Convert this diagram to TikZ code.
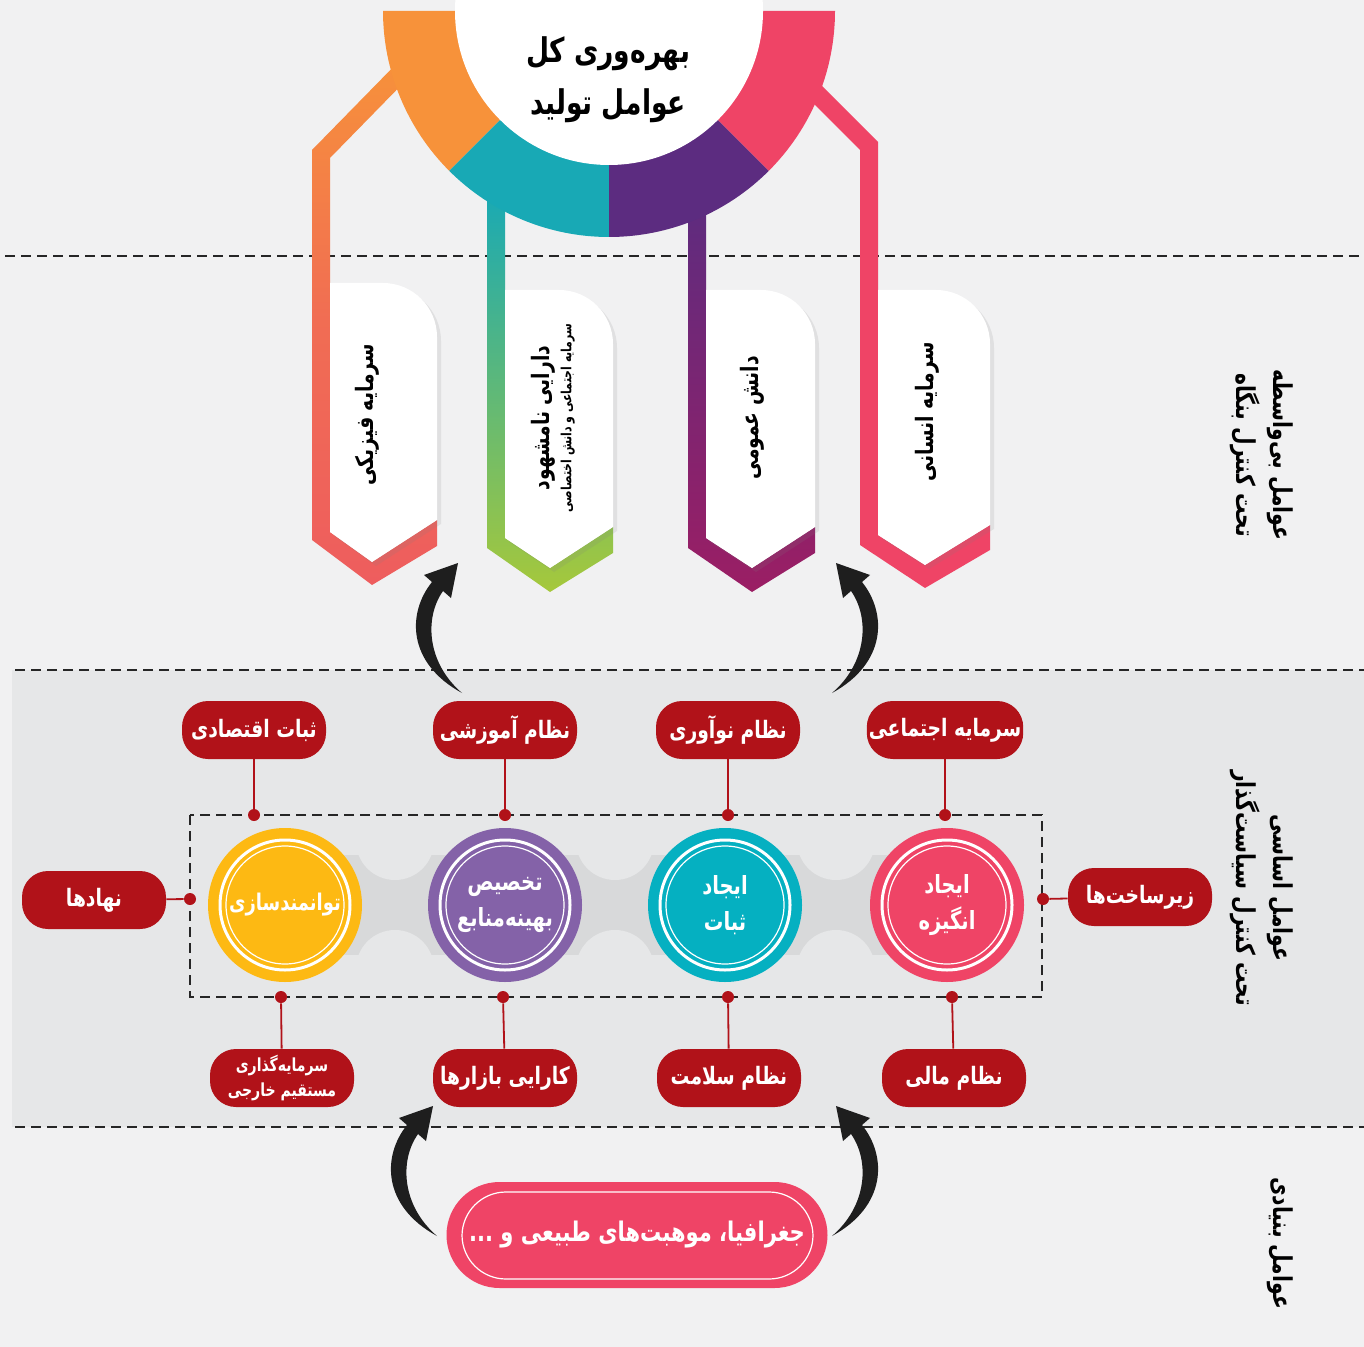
\documentclass[tikz,border=0pt]{standalone}
\usepackage{fontspec}
\newfontfamily\fafont[Script=Arabic, FakeStretch=0.78]{DejaVu Sans}
\TeXXeTstate=1
\usetikzlibrary{positioning, arrows.meta, shadows}

\definecolor{paper}{HTML}{F1F1F2}
\definecolor{band}{HTML}{E6E7E8}
\definecolor{bridge}{HTML}{D8D9DA}
\definecolor{pillred}{HTML}{B11219}
\definecolor{hubyellow}{HTML}{FDB913}
\definecolor{hubpurple}{HTML}{8462A8}
\definecolor{hubteal}{HTML}{05B0C1}
\definecolor{hubpink}{HTML}{EF4466}
\definecolor{ringorange}{HTML}{F7923A}
\definecolor{ringteal}{HTML}{18A9B5}
\definecolor{ringpurple}{HTML}{5C2C80}
\definecolor{ringpink}{HTML}{EF4466}
\definecolor{coral}{HTML}{EE5D5E}
\definecolor{lime}{HTML}{A6C83B}
\definecolor{plum}{HTML}{9B1E64}
\definecolor{arrowblack}{HTML}{1E1E1E}

\newcommand{\rtltext}[1]{\beginR#1\endR}

\begin{document}
\begin{tikzpicture}[
    x=0.5pt, y=-0.5pt,
    pill/.style={rectangle, rounded corners=13pt, fill=pillred, text=white, minimum width=72pt, minimum height=29pt, inner sep=1pt, align=center, font=\fafont\bfseries\fontsize{12}{13}\selectfont},
    hub/.style={circle, fill=#1, text=white, minimum size=77pt, inner sep=0pt, align=center, font=\fafont\bfseries\fontsize{12.5}{18}\selectfont},
    dot/.style={circle, fill=pillred, minimum size=6pt, inner sep=0pt},
    link/.style={pillred, line width=0.9pt},
    sep/.style={dash pattern=on 5pt off 3pt, line width=1pt, black!85},
    flagtext/.style={rotate=90, align=center, font=\fafont\bfseries\fontsize{12}{14}\selectfont},
    sidetext/.style={rotate=-90, align=center, font=\fafont\bfseries\fontsize{13}{18.5}\selectfont},
    sheet/.style={fill=white, drop shadow={opacity=0.15, shadow xshift=2pt, shadow yshift=-2pt}},
    curl/.pic={\fill[arrowblack] (0,0) .. controls (-55,-30) and (-55,-80) .. (-30,-111) -- (-38,-118) -- (-4,-130) -- (-11,-95) -- (-19,-102) .. controls (-38,-75) and (-35,-30) .. (0,0) -- cycle;}
]

\useasboundingbox (0,0) rectangle (1364,1347);
\fill[paper] (0,0) rectangle (1364,1347);
\fill[band] (12,670) rectangle (1364,1127);

% Level separators
\draw[sep] (5,256) -- (1364,256);
\draw[sep] (15,670) -- (1364,670);
\draw[sep] (15,1127) -- (1364,1127);

% Flag bars
\shade[top color=ringorange, bottom color=coral, middle color=coral!70!ringorange] (405,55) -- (312,150) -- (312,540) -- (372,585) -- (437,546) -- (437,520) -- (372,562) -- (330,532) -- (330,158) -- (418,68) -- cycle;
\shade[top color=ringteal, bottom color=lime] (487,190) -- (487,548) -- (550,592) -- (613,553) -- (613,527) -- (550,568) -- (505,538) -- (505,190) -- cycle;
\shade[top color=ringpurple, bottom color=plum] (688,190) -- (688,548) -- (752,592) -- (815,553) -- (815,527) -- (752,568) -- (706,538) -- (706,190) -- cycle;
\fill[ringpink] (800,90) -- (860,150) -- (860,545) -- (925,588) -- (990,550) -- (990,525) -- (925,565) -- (878,535) -- (878,142) -- (818,82) -- cycle;

% Ring
\fill[ringorange] (609,11) -- ++(180:226) arc[start angle=180, end angle=135, radius=226] -- cycle;
\fill[ringteal] (609,11) -- ++(135:226) arc[start angle=135, end angle=90, radius=226] -- cycle;
\fill[ringpurple] (609,11) -- ++(90:226) arc[start angle=90, end angle=45, radius=226] -- cycle;
\fill[ringpink] (609,11) -- ++(45:226) arc[start angle=45, end angle=0, radius=226] -- cycle;
\fill[white] (609,11) circle[radius=154];
\node[align=center, font=\fafont\bfseries\fontsize{17}{26}\selectfont] (title) at (608,80) {\rtltext{بهره‌وری کل}\\\rtltext{عوامل تولید}};

% Flags
\path[sheet] (330,532) -- (330,283) [rounded corners=27pt] -- (437,283) [sharp corners] -- (437,520) -- (372,562) -- cycle;
\path[sheet] (505,538) -- (505,290) [rounded corners=27pt] -- (613,290) [sharp corners] -- (613,527) -- (550,568) -- cycle;
\path[sheet] (706,538) -- (706,290) [rounded corners=27pt] -- (815,290) [sharp corners] -- (815,527) -- (752,568) -- cycle;
\path[sheet] (878,535) -- (878,290) [rounded corners=27pt] -- (990,290) [sharp corners] -- (990,525) -- (925,565) -- cycle;

\node[flagtext] (physical) at (367,415) {\rtltext{سرمایه فیزیکی}};
\node[flagtext] (intangible) at (553,418) {\rtltext{دارایی نامشهود}\\[-3pt]{\fontsize{7}{8}\selectfont\rtltext{سرمایه اجتماعی و دانش اختصاصی}}};
\node[flagtext] (knowledge) at (752,418) {\rtltext{دانش عمومی}};
\node[flagtext] (human) at (927,412) {\rtltext{سرمایه انسانی}};

% Curved arrows
\coordinate (upL) at (462,693);
\coordinate (upR) at (832,693);
\coordinate (lowL) at (437,1236);
\coordinate (lowR) at (832,1236);
\pic at (upL) {curl};
\pic[xscale=-1] at (upR) {curl};
\pic at (lowL) {curl};
\pic[xscale=-1] at (lowR) {curl};

% Bridges between hubs
\fill[bridge] (285,855) rectangle (947,955);
\fill[band] (395,841) circle[radius=39];
\fill[band] (395,969) circle[radius=39];
\fill[band] (615,841) circle[radius=39];
\fill[band] (615,969) circle[radius=39];
\fill[band] (836,841) circle[radius=39];
\fill[band] (836,969) circle[radius=39];

\draw[sep, line width=0.8pt] (190,815) rectangle (1042,997);

% Hubs
\node[hub=hubyellow, font=\fafont\bfseries\fontsize{11.5}{18}\selectfont] (h1) at (285,905) {\rtltext{توانمندسازی}};
\node[hub=hubpurple] (h2) at (505,905) {\rtltext{تخصیص}\\\rtltext{بهینه‌منابع}};
\node[hub=hubteal] (h3) at (725,905) {\rtltext{ایجاد}\\\rtltext{ثبات}};
\node[hub=hubpink] (h4) at (947,905) {\rtltext{ایجاد}\\\rtltext{انگیزه}};
\draw[white, line width=1.5pt] (h1.center) circle[radius=65] (h2.center) circle[radius=65] (h3.center) circle[radius=65] (h4.center) circle[radius=65];
\draw[white, line width=0.6pt] (h1.center) circle[radius=59] (h2.center) circle[radius=59] (h3.center) circle[radius=59] (h4.center) circle[radius=59];

% Policy levers
\node[dot] (d1) at (254,815) {};
\node[dot] (d2) at (505,815) {};
\node[dot] (d3) at (728,815) {};
\node[dot] (d4) at (945,815) {};
\node[dot] (d5) at (281,997) {};
\node[dot] (d6) at (503,997) {};
\node[dot] (d7) at (728,997) {};
\node[dot] (d8) at (952,997) {};
\node[dot] (d9) at (190,899) {};
\node[dot] (d10) at (1043,899) {};

\node[pill] (econ) at (254,730) {\rtltext{ثبات اقتصادی}};
\node[pill] (edu) at (505,730) {\rtltext{نظام آموزشی}};
\node[pill] (innov) at (728,730) {\rtltext{نظام نوآوری}};
\node[pill] (social) at (945,730) {\rtltext{سرمایه اجتماعی}};
\node[pill, font=\fafont\bfseries\fontsize{9}{13}\selectfont] (fdi) at (282,1078) {\rtltext{سرمایه‌گذاری}\\\rtltext{مستقیم خارجی}};
\node[pill] (market) at (505,1078) {\rtltext{کارایی بازارها}};
\node[pill] (health) at (729,1078) {\rtltext{نظام سلامت}};
\node[pill] (finance) at (954,1078) {\rtltext{نظام مالی}};
\node[pill] (inst) at (94,900) {\rtltext{نهادها}};
\node[pill] (infra) at (1140,897) {\rtltext{زیرساخت‌ها}};

\draw[link] (econ) -- (d1);
\draw[link] (edu) -- (d2);
\draw[link] (innov) -- (d3);
\draw[link] (social) -- (d4);
\draw[link] (d5) -- (fdi);
\draw[link] (d6) -- (market);
\draw[link] (d7) -- (health);
\draw[link] (d8) -- (finance);
\draw[link] (inst) -- (d9);
\draw[link] (d10) -- (infra);

% Foundation
\node[rectangle, rounded corners=26.5pt, fill=hubpink, text=white, minimum width=190.5pt, minimum height=53pt, font=\fafont\bfseries\fontsize{13.5}{16}\selectfont] (geo) at (637,1235) {\rtltext{جغرافیا، موهبت‌های طبیعی و ...}};
\draw[white, line width=0.6pt, rounded corners=22pt] (462,1192) rectangle (813,1279);

% Level labels
\node[sidetext] (direct) at (1262,455) {\rtltext{عوامل بی‌واسطه}\\\rtltext{تحت کنترل بنگاه}};
\node[sidetext] (basic) at (1262,888) {\rtltext{عوامل اساسی}\\\rtltext{تحت کنترل سیاست‌گذار}};
\node[sidetext] (fundamental) at (1280,1243) {\rtltext{عوامل بنیادی}};

\end{tikzpicture}
\end{document}
